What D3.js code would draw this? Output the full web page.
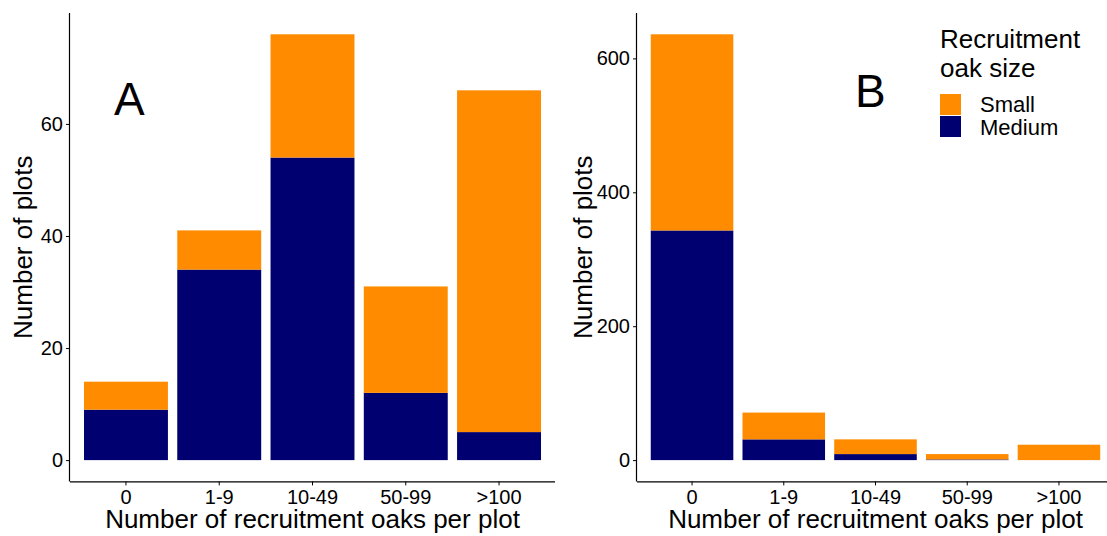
<!DOCTYPE html>
<html>
<head>
<meta charset="utf-8">
<script src="https://cdn.jsdelivr.net/npm/d3@7"></script>
<style>
  body { margin: 0; background: #fff; }
  svg { font-family: "Liberation Sans", Arial, sans-serif; }
  .axis path, .axis line { stroke: #000; }
  .axis text { fill: #000; }
</style>
</head>
<body>
<div id="chart"></div>
<script>
const categories = ["0", "1-9", "10-49", "50-99", ">100"];
const sizes = ["Small", "Medium"];

// panel A
const mediumA = [9, 34, 54, 12, 5];
const smallA = [5, 7, 22, 19, 61];
const ticksA = [0, 20, 40, 60];

// panel B
const mediumB = [343, 31, 9, 1, 0];
const smallB = [293, 40, 22, 8, 23];
const ticksB = [0, 200, 400, 600];

const width = 1107;
const height = 536;

const color = d3.scaleOrdinal().domain(sizes).range(["#FF8C00", "#000070"]);

const svg = d3
  .select("#chart")
  .append("svg")
  .attr("width", width)
  .attr("height", height);

const plotTop = 13;
const plotBottom = 481.4;

function drawPanel(left, right, medium, small, ticks, titleOffset, letter, letterX, letterY) {
  const rows = categories.map((c, i) => ({ cat: c, Medium: medium[i], Small: small[i] }));
  const stacked = d3.stack().keys(["Medium", "Small"])(rows);
  const maxVal = d3.max(rows, (d) => d.Medium + d.Small);
  const pad = maxVal * 0.05;

  // ggplot-like discrete axis: bars 0.9 wide, 0.6 expansion on each side
  const x = d3.scaleBand().domain(categories).range([left, right]).paddingInner(0.1).paddingOuter(0.15);
  const y = d3.scaleLinear().domain([-pad, maxVal + pad]).range([plotBottom, plotTop]);

  const g = svg.append("g");

  g.selectAll("g.layer")
    .data(stacked)
    .join("g")
    .attr("class", "layer")
    .attr("fill", (d) => color(d.key))
    .selectAll("rect")
    .data((d) => d)
    .join("rect")
    .attr("x", (d) => x(d.data.cat))
    .attr("width", x.bandwidth())
    .attr("y", (d) => y(d[1]))
    .attr("height", (d) => y(d[0]) - y(d[1]));

  g.append("g")
    .attr("class", "axis")
    .attr("transform", `translate(0,${plotBottom})`)
    .call(d3.axisBottom(x).tickSize(4).tickPadding(4).tickSizeOuter(0))
    .call((a) => a.select(".domain").attr("d", `M${left},0.5H${right}`).attr("stroke-width", 1.2))
    .selectAll("text")
    .attr("font-size", 20);

  g.append("g")
    .attr("class", "axis")
    .attr("transform", `translate(${left},0)`)
    .call(d3.axisLeft(y).tickValues(ticks).tickSize(4).tickPadding(3).tickSizeOuter(0))
    .call((a) => a.select(".domain").attr("d", `M-0.5,${plotTop}V${plotBottom}`).attr("stroke-width", 1.2))
    .selectAll("text")
    .attr("font-size", 20);

  g.append("text")
    .attr("x", (left + right) / 2)
    .attr("y", 528)
    .attr("text-anchor", "middle")
    .attr("font-size", 26)
    .text("Number of recruitment oaks per plot");

  g.append("text")
    .attr("transform", `translate(${left - titleOffset},${(plotTop + plotBottom) / 2}) rotate(-90)`)
    .attr("text-anchor", "middle")
    .attr("font-size", 26)
    .text("Number of plots");

  g.append("text")
    .attr("x", letterX)
    .attr("y", letterY)
    .attr("font-size", 46)
    .text(letter);
}

drawPanel(70, 555, mediumA, smallA, ticksA, 38, "A", 114, 115);
drawPanel(637, 1114, mediumB, smallB, ticksB, 45, "B", 855, 107);

// legend
const legend = svg.append("g").attr("transform", "translate(940,0)");
legend
  .append("text")
  .attr("x", 0)
  .attr("y", 48)
  .attr("font-size", 26)
  .text("Recruitment");
legend
  .append("text")
  .attr("x", 0)
  .attr("y", 77)
  .attr("font-size", 26)
  .text("oak size");

legend
  .selectAll("rect")
  .data(sizes)
  .join("rect")
  .attr("x", 0)
  .attr("y", (d, i) => 94 + i * 22)
  .attr("width", 21)
  .attr("height", 21)
  .attr("fill", (d) => color(d));

legend
  .selectAll("text.key")
  .data(sizes)
  .join("text")
  .attr("class", "key")
  .attr("x", 40)
  .attr("y", (d, i) => 112 + i * 23)
  .attr("font-size", 22)
  .text((d) => d);
</script>
</body>
</html>
